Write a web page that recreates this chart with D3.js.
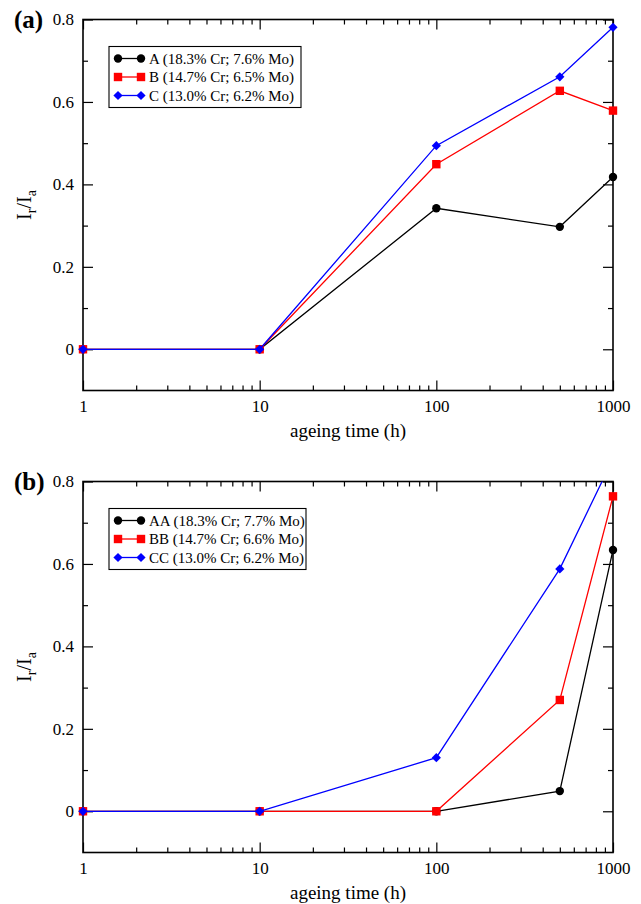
<!DOCTYPE html>
<html>
<head>
<meta charset="utf-8">
<script src="https://cdn.jsdelivr.net/npm/d3@7"></script>
<style>
  body { margin: 0; background: #fff; }
  svg text { font-family: "Liberation Serif", "DejaVu Serif", serif; }
</style>
</head>
<body>
<svg id="chart" width="641" height="904"></svg>
<script>
// values
const hours = [1, 10, 100, 500, 1000];
const seriesA = [0, 0, 0.342, 0.297, 0.418];
const seriesB = [0, 0, 0.449, 0.627, 0.579];
const seriesC = [0, 0, 0.494, 0.661, 0.781];
const seriesAA = [0, 0, 0, 0.049, 0.634];
const seriesBB = [0, 0, 0, 0.27, 0.764];
const seriesCC = [0, 0, 0.13, 0.588, 0.855];
const legendA = ["A (18.3% Cr; 7.6% Mo)", "B (14.7% Cr; 6.5% Mo)", "C (13.0% Cr; 6.2% Mo)"];
const legendB = ["AA (18.3% Cr; 7.7% Mo)", "BB (14.7% Cr; 6.6% Mo)", "CC (13.0% Cr; 6.2% Mo)"];
const xTicks = [1, 10, 100, 1000];
const yTicks = [0, 0.2, 0.4, 0.6, 0.8];
const yMinor = [0.1, 0.3, 0.5, 0.7];

const colors = ["#000000", "#ff0000", "#0000ff"];
const shapes = ["circle", "square", "diamond"];
const serif = "'Liberation Serif', 'DejaVu Serif', serif";

let xMinor = [];
for (let d = 1; d < 1000; d *= 10) {
    for (let k = 2; k < 10; k++) xMinor.push(d * k);
}

const svg = d3.select("#chart");
const margin = { left: 83, right: 28 };
const panelH = 371;

const drawMarker = (g, shape, color, cx, cy) => {
    if (shape == "circle") {
        g.append("circle").attr("cx", cx).attr("cy", cy).attr("r", 4.2).attr("fill", color);
    } else if (shape == "square") {
        g.append("rect").attr("x", cx - 4.2).attr("y", cy - 4.2).attr("width", 8.4).attr("height", 8.4).attr("fill", color);
    } else {
        let s = 4.6;
        g.append("path").attr("d", `M${cx},${cy - s}L${cx + s},${cy}L${cx},${cy + s}L${cx - s},${cy}Z`).attr("fill", color);
    }
}

const buildPanel = (top, series, labels, tag, id) => {
    let bottom = top + panelH;
    let x = d3.scaleLog().domain([1, 1000]).range([margin.left, 641 - margin.right]);
    let y = d3.scaleLinear().domain([-0.1, 0.8]).range([bottom, top]);
    let g = svg.append("g");

    // axes with inward ticks
    g.append("g").attr("transform", "translate(0," + bottom + ")")
        .call(d3.axisBottom(x).tickValues(xTicks).tickSizeInner(-10).tickSizeOuter(0).tickPadding(9).tickFormat(d3.format("d")));
    g.append("g").attr("transform", "translate(0," + bottom + ")")
        .call(d3.axisBottom(x).tickValues(xMinor).tickSizeInner(-5).tickSizeOuter(0).tickFormat(""));
    g.append("g").attr("transform", "translate(0," + top + ")")
        .call(d3.axisTop(x).tickValues(xTicks).tickSizeInner(-10).tickSizeOuter(0).tickFormat(""));
    g.append("g").attr("transform", "translate(0," + top + ")")
        .call(d3.axisTop(x).tickValues(xMinor).tickSizeInner(-5).tickSizeOuter(0).tickFormat(""));
    g.append("g").attr("transform", "translate(" + margin.left + ",0)")
        .call(d3.axisLeft(y).tickValues(yTicks).tickSizeInner(-10).tickSizeOuter(0).tickPadding(9)
            .tickFormat((d) => { return d == 0 ? "0" : d.toFixed(1); }));
    g.append("g").attr("transform", "translate(" + margin.left + ",0)")
        .call(d3.axisLeft(y).tickValues(yMinor).tickSizeInner(-5).tickSizeOuter(0).tickFormat(""));
    g.append("g").attr("transform", "translate(" + (641 - margin.right) + ",0)")
        .call(d3.axisRight(y).tickValues(yTicks).tickSizeInner(-10).tickSizeOuter(0).tickFormat(""));
    g.append("g").attr("transform", "translate(" + (641 - margin.right) + ",0)")
        .call(d3.axisRight(y).tickValues(yMinor).tickSizeInner(-5).tickSizeOuter(0).tickFormat(""));

    g.selectAll(".domain").remove();
    g.selectAll("g").attr("font-family", serif);
    g.selectAll(".tick line").attr("stroke", "#000").attr("stroke-width", 1.2);
    g.selectAll(".tick text").attr("font-size", 17).attr("fill", "#000")
        .attr("font-family", serif);

    g.append("rect")
        .attr("x", margin.left).attr("y", top)
        .attr("width", 641 - margin.right - margin.left).attr("height", panelH)
        .attr("fill", "none").attr("stroke", "#000").attr("stroke-width", 1.6);

    // clip to plot top, allow markers on the side edges
    svg.append("clipPath").attr("id", id)
        .append("rect").attr("x", margin.left - 10).attr("y", top)
        .attr("width", 641 - margin.right - margin.left + 20).attr("height", panelH + 10);

    let plot = g.append("g").attr("clip-path", "url(#" + id + ")");
    let line = d3.line().x((d, i) => x(hours[i])).y((d) => y(d));
    for (let s = 0; s < series.length; s++) {
        plot.append("path").datum(series[s])
            .attr("d", line).attr("fill", "none")
            .attr("stroke", colors[s]).attr("stroke-width", 1.3);
        for (let i = 0; i < hours.length; i++) {
            drawMarker(plot, shapes[s], colors[s], x(hours[i]), y(series[s][i]));
        }
    }

    // legend
    let lx = 109, ly = top + 27;
    let leg = g.append("g");
    leg.append("rect").attr("x", lx).attr("y", ly)
        .attr("width", id == "clipA" ? 192 : 197).attr("height", 61)
        .attr("fill", "#fff").attr("stroke", "#000").attr("stroke-width", 1.1);
    for (let s = 0; s < labels.length; s++) {
        let ry = ly + 12 + s * 18.5;
        leg.append("line").attr("x1", lx + 9).attr("x2", lx + 32).attr("y1", ry).attr("y2", ry)
            .attr("stroke", colors[s]).attr("stroke-width", 1.3);
        drawMarker(leg, shapes[s], colors[s], lx + 9, ry);
        drawMarker(leg, shapes[s], colors[s], lx + 32, ry);
        leg.append("text").attr("x", lx + 40).attr("y", ry).attr("dy", "0.35em")
            .attr("font-family", serif).attr("font-size", 15).text(labels[s]);
    }

    // titles
    g.append("text").attr("x", (margin.left + 641 - margin.right) / 2).attr("y", bottom + 46)
        .attr("text-anchor", "middle").attr("font-family", serif).attr("font-size", 19).text("ageing time (h)");
    let yl = g.append("text").attr("text-anchor", "middle").attr("font-family", serif).attr("font-size", 20)
        .attr("transform", "translate(31," + (top + panelH / 2) + ") rotate(-90)");
    yl.append("tspan").text("I");
    yl.append("tspan").attr("font-size", 14).attr("dy", 5).text("r");
    yl.append("tspan").attr("dy", -5).text("/I");
    yl.append("tspan").attr("font-size", 14).attr("dy", 5).text("a");

    g.append("text").attr("x", 14).attr("y", top + 8).attr("font-family", serif).attr("font-size", 25)
        .attr("font-weight", "bold").text(tag);
}

buildPanel(19.5, [seriesA, seriesB, seriesC], legendA, "(a)", "clipA");
buildPanel(481.5, [seriesAA, seriesBB, seriesCC], legendB, "(b)", "clipB");
</script>
</body>
</html>
